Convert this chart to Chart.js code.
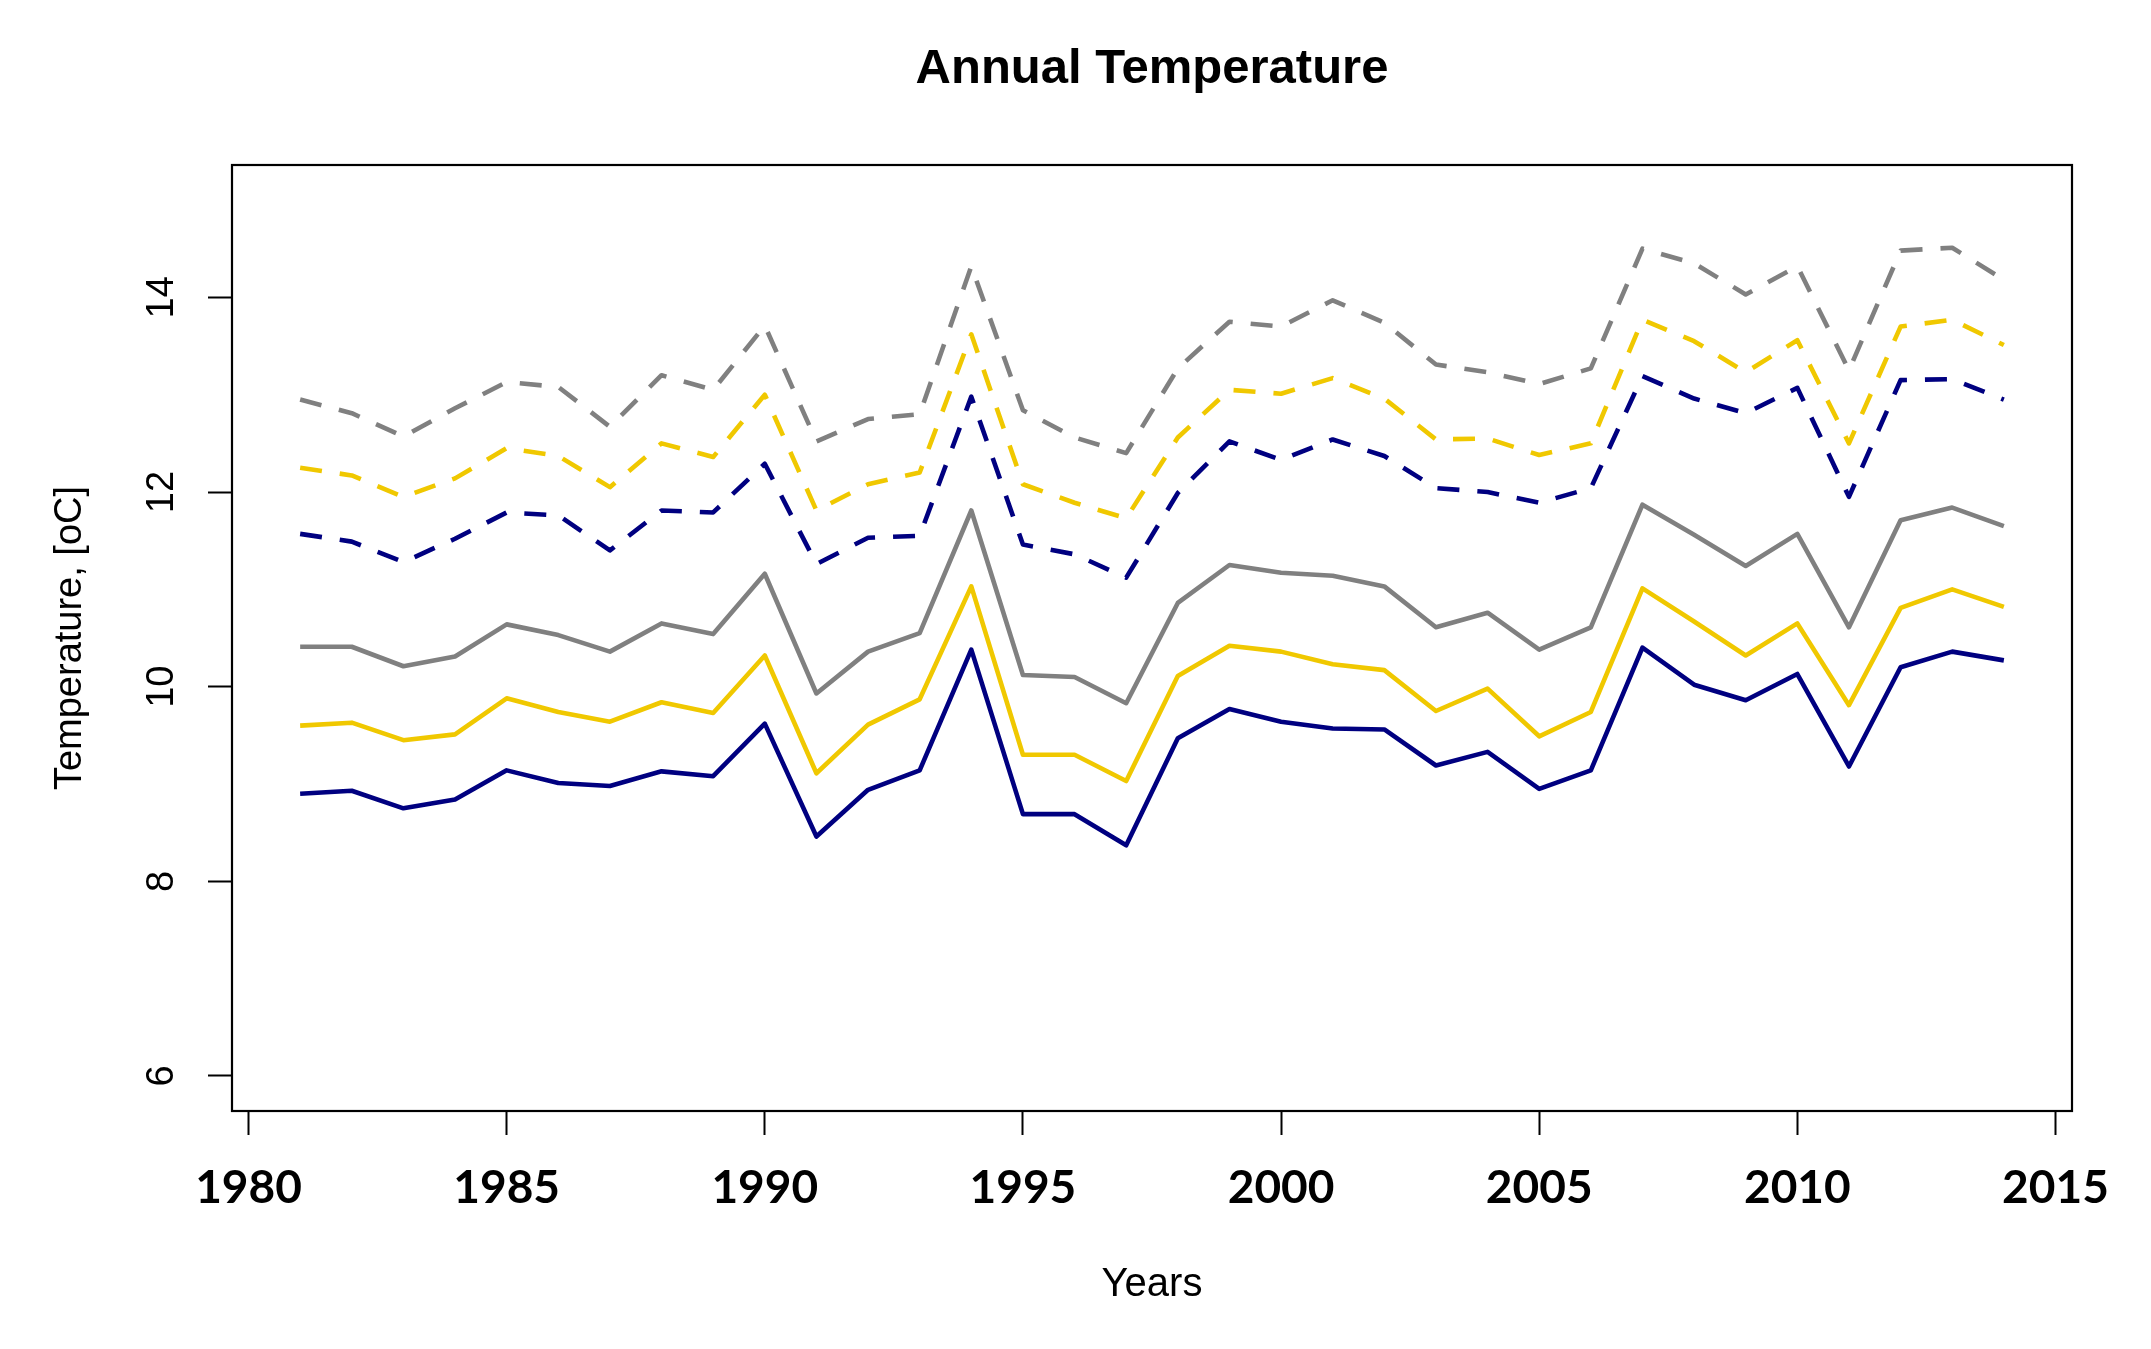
<!DOCTYPE html>
<html>
<head>
<meta charset="utf-8">
<script src="https://cdn.jsdelivr.net/npm/chart.js@4/dist/chart.umd.min.js"></script>
<style>
  html, body { margin: 0; padding: 0; background: #ffffff; }
  canvas { display: block; }
</style>
</head>
<body>
<canvas id="c" width="2151" height="1349"></canvas>
<script>
// ---- data ----
const years = [1981,1982,1983,1984,1985,1986,1987,1988,1989,1990,
               1991,1992,1993,1994,1995,1996,1997,1998,1999,2000,
               2001,2002,2003,2004,2005,2006,2007,2008,2009,2010,
               2011,2012,2013,2014];

const navySolid = [8.90,8.93,8.75,8.84,9.14,9.01,8.98,9.13,9.08,9.62,
                   8.46,8.94,9.14,10.38,8.69,8.69,8.37,9.47,9.77,9.64,
                   9.57,9.56,9.19,9.33,8.95,9.14,10.40,10.02,9.86,10.13,
                   9.18,10.20,10.36,10.27];

const goldSolid = [9.60,9.63,9.45,9.51,9.88,9.74,9.64,9.84,9.73,10.32,
                   9.11,9.61,9.87,11.03,9.30,9.30,9.03,10.11,10.42,10.36,
                   10.23,10.17,9.75,9.98,9.49,9.74,11.01,10.67,10.32,10.65,
                   9.81,10.81,11.00,10.82];

const graySolid = [10.41,10.41,10.21,10.31,10.64,10.53,10.36,10.65,10.54,11.16,
                   9.93,10.36,10.55,11.81,10.12,10.10,9.83,10.86,11.25,11.17,
                   11.14,11.03,10.61,10.76,10.38,10.61,11.87,11.56,11.24,11.57,
                   10.61,11.71,11.84,11.65];

const navyDashed = [11.57,11.49,11.28,11.52,11.79,11.76,11.40,11.81,11.79,12.29,
                    11.26,11.53,11.55,12.98,11.46,11.36,11.12,11.99,12.52,12.33,
                    12.54,12.37,12.04,12.00,11.89,12.04,13.19,12.96,12.81,13.07,
                    11.95,13.15,13.16,12.95];

const goldDashed = [12.25,12.17,11.95,12.14,12.45,12.37,12.05,12.50,12.36,13.00,
                    11.81,12.08,12.20,13.62,12.08,11.89,11.73,12.56,13.05,13.01,
                    13.17,12.96,12.54,12.55,12.38,12.50,13.77,13.55,13.23,13.56,
                    12.50,13.70,13.77,13.51];

const grayDashed = [12.95,12.81,12.57,12.86,13.13,13.08,12.67,13.20,13.05,13.71,
                    12.52,12.75,12.80,14.32,12.84,12.56,12.40,13.27,13.75,13.70,
                    13.97,13.74,13.31,13.23,13.11,13.27,14.50,14.35,14.03,14.32,
                    13.25,14.48,14.51,14.18];

const xTicks = [1980,1985,1990,1995,2000,2005,2010,2015];
const yTicks = [6,8,10,12,14];

// ---- styling ----
const NAVY = '#000080';
const GOLD = '#F0C800';
const GRAY = '#808080';
const DASH = [22, 18];

function series(label, values, color, dashed) {
  return {
    label: label,
    data: years.map((y, i) => ({ x: y, y: values[i] })),
    borderColor: color,
    backgroundColor: color,
    borderWidth: 4.6,
    borderDash: dashed ? DASH : [],
    borderCapStyle: 'butt',
    borderJoinStyle: 'round',
    pointRadius: 0,
    pointHoverRadius: 0,
    tension: 0,
    fill: false
  };
}

// draws the box around the plot region and centres the title over it
const framePlugin = {
  id: 'frame',
  afterLayout(chart) {
    const t = chart.titleBlock;
    if (t) {
      t.left = chart.chartArea.left;
      t.right = chart.chartArea.right;
    }
  },
  afterDraw(chart) {
    const a = chart.chartArea;
    const ctx = chart.ctx;
    ctx.save();
    ctx.strokeStyle = '#000000';
    ctx.lineWidth = 2.2;
    ctx.strokeRect(a.left, a.top, a.right - a.left, a.bottom - a.top);
    ctx.restore();
  }
};

new Chart(document.getElementById('c'), {
  type: 'line',
  data: {
    datasets: [
      series('Grey dashed', grayDashed, GRAY, true),
      series('Gold dashed', goldDashed, GOLD, true),
      series('Navy dashed', navyDashed, NAVY, true),
      series('Grey solid', graySolid, GRAY, false),
      series('Gold solid', goldSolid, GOLD, false),
      series('Navy solid', navySolid, NAVY, false)
    ]
  },
  options: {
    responsive: false,
    devicePixelRatio: 1,
    animation: false,
    layout: { padding: { left: 0, right: 79, top: 0, bottom: 0 } },
    plugins: {
      legend: { display: false },
      tooltip: { enabled: false },
      title: {
        display: true,
        text: 'Annual Temperature',
        color: '#000000',
        font: { family: 'Liberation Sans', size: 49, weight: 'bold', lineHeight: 1.2 },
        padding: { top: 40, bottom: 66.2 }
      }
    },
    scales: {
      x: {
        type: 'linear',
        min: 1979.68,
        max: 2015.32,
        afterBuildTicks(scale) { scale.ticks = xTicks.map(v => ({ value: v })); },
        afterFit(scale) { scale.height = 238; },
        ticks: {
          autoSkip: false,
          minRotation: 0,
          maxRotation: 0,
          padding: 26,
          color: '#000000',
          font: { family: 'Lato', size: 46, weight: 'bold', lineHeight: 1.2 },
          callback: v => String(v)
        },
        grid: {
          display: true,
          drawOnChartArea: false,
          drawTicks: true,
          tickLength: 24,
          tickWidth: 2,
          tickColor: '#000000'
        },
        border: { display: false },
        title: {
          display: true,
          text: 'Years',
          color: '#000000',
          font: { family: 'Liberation Sans', size: 40, lineHeight: 1.2 },
          padding: { top: 0, bottom: 40 }
        }
      },
      y: {
        type: 'linear',
        min: 5.64,
        max: 15.36,
        afterBuildTicks(scale) { scale.ticks = yTicks.map(v => ({ value: v })); },
        afterFit(scale) { scale.width = 232; },
        ticks: {
          autoSkip: false,
          minRotation: 90,
          maxRotation: 90,
          crossAlign: 'center',
          padding: 24,
          color: '#000000',
          font: { family: 'Liberation Sans', size: 38, lineHeight: 1.2 },
          callback: v => String(v)
        },
        grid: {
          display: true,
          drawOnChartArea: false,
          drawTicks: true,
          tickLength: 24,
          tickWidth: 2,
          tickColor: '#000000'
        },
        border: { display: false },
        title: {
          display: true,
          text: 'Temperature, [oC]',
          color: '#000000',
          font: { family: 'Liberation Sans', size: 38, lineHeight: 1.2 },
          padding: { top: 48, bottom: 0 }
        }
      }
    }
  },
  plugins: [framePlugin]
});
</script>
</body>
</html>
